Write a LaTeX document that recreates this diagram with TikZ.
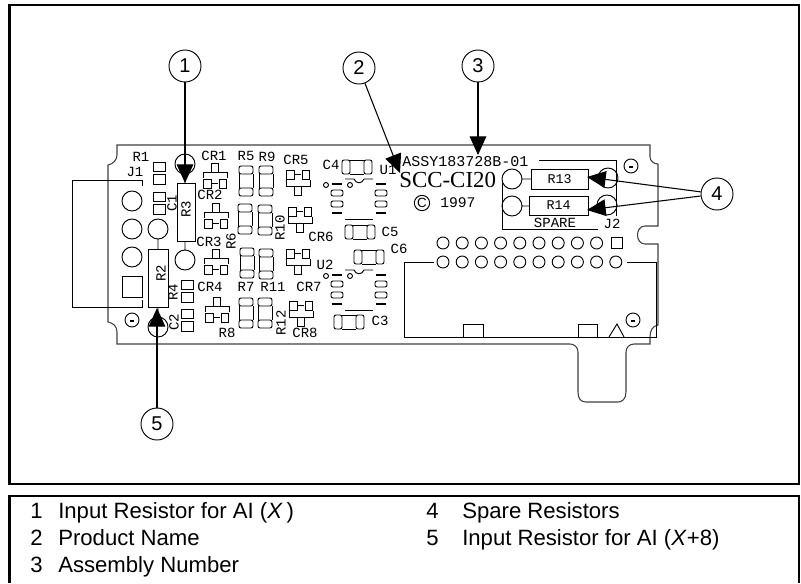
\documentclass[tikz,border=0pt]{standalone}
\usepackage{fontspec}
\setmainfont{Liberation Sans}
\newfontfamily\placafont{Liberation Mono}
\newfontfamily\nombrefont{Liberation Serif}
\usepackage{tikz}
\usetikzlibrary{arrows.meta}

\tikzset{
	marco/.style = {line width = 1.6pt},
	contorno/.style = {line width = 0.8pt, black!75},
	traza/.style = {line width = 0.7pt},
	etiqueta/.style = {inner sep = 0pt, font = \placafont\fontsize{10.5}{11}\selectfont},
	flecha/.style = {line width = 0.8pt, -{Triangle[length = 14pt, width = 12.5pt]}},
	numero/.style = {
		draw, circle, line width = 0.7pt, fill = white, inner sep = 0pt,
		minimum size = 24pt, font = \fontsize{15}{15}\selectfont
	},
	leyenda/.style = {anchor = base west, inner sep = 0pt, font = \fontsize{16.6}{18}\selectfont},
	% resistencia con dos cápsulas
	pics/capsulas/.style = {code = {
		\draw[traza, rounded corners = 1.5pt] (-7,-15) rectangle (7,-7) (-7,7) rectangle (7,15);
		\draw[traza] (-7,-7) -- (-7,7) (7,-7) -- (7,7);
	}},
	% diodo con tres cuadros
	pics/diodo/.style = {code = {
		\draw[traza] (-3.5,-13) rectangle (3.5,-4);
		\draw[traza] (-12,2) -- (-12,-4) -- (12,-4) -- (12,2);
		\draw[traza] (-11.5,3) rectangle (-4,12) (4,3) rectangle (11.5,12);
		\draw[traza] (-3,7.5) -- (3,7.5);
	}},
	% condensador con dos cuadros
	pics/cuadros/.style = {code = {
		\draw[traza] (-6,-11) rectangle (6,-1.5) (-6,1.5) rectangle (6,11);
	}},
	% circuito integrado
	pics/integrado/.style = {code = {
		\draw[traza] (-33,-14) circle (2.5) (-9,-14) circle (2.5);
		\foreach \s in {-1,1} {
			\draw[line width = 1.3pt] (\s*17,-15) -- (\s*27,-15) (\s*17,14) -- (\s*27,14);
			\draw[traza, rounded corners = 1.5pt]
				(\s*16,-9) rectangle (\s*28,-3)
				(\s*16,2) rectangle (\s*28,8);
		}
		\draw[traza] (-14,-20) -- (-5,-20) .. controls (-3,-15) and (3,-15) .. (5,-20) -- (14,-20);
		\draw[traza] (-14,20) -- (14,20);
	}}
}

\begin{document}
\begin{tikzpicture}[x = 0.75pt, y = -0.75pt]

	\useasboundingbox (0,0) rectangle (801,583);

	% marcos
	\draw[marco] (9.5,5) rectangle (799,484);
	\draw[marco] (9.5,583) -- (9.5,496) -- (799,496) -- (799,583);

	% contorno de la placa
	\draw[contorno] (117,145) -- (650,145) -- (650,157)
		.. controls (650,161) and (654,164) .. (658,164)
		-- (658,226) -- (645,226)
		.. controls (635,226) and (635,244) .. (645,244)
		-- (658,244) -- (658,325)
		.. controls (653,326) and (650,330) .. (650,337)
		-- (650,344) -- (634,344)
		.. controls (629,344) and (626,348) .. (626,352)
		-- (626,392)
		.. controls (626,399) and (622,402) .. (618,402)
		-- (586,402)
		.. controls (581,402) and (578,399) .. (578,392)
		-- (578,352)
		.. controls (578,347) and (574,344) .. (570,344)
		-- (117,344) -- (117,332)
		.. controls (117,326) and (113,323) .. (108,322)
		-- (108,165)
		.. controls (113,164) and (117,160) .. (117,155) -- cycle;

	% conector J1
	\draw[traza] (142,186) -- (142,180) -- (72,180) -- (72,307) -- (142,307) -- (142,300);
	\foreach \y in {201,229,257}
		\draw[traza] (132,\y) circle (10);
	\draw[traza] (122,276) rectangle (142,297);

	% resistencias R2 y R3
	\draw[traza] (148,249) rectangle (168,307);
	\draw[traza] (177,183) rectangle (195,241);
	\draw[traza] (158,229) circle (10) (158,239) -- (158,249);
	\draw[traza] (158,327) circle (10) (158,307) -- (158,317);
	\draw[traza] (185,164) circle (10) (185,174) -- (185,183);
	\draw[traza] (185,260) circle (10) (185,241) -- (185,250);

	% agujeros de montaje
	\foreach \x/\y in {132/320,631/166,633/320} {
		\draw[traza] (\x,\y) circle (7);
		\fill (\x-2,\y) rectangle (\x+2,\y+2);
	}

	% componentes pequeños
	\foreach \x/\y in {159/173,159/203,187.5/291,187.5/320}
		\pic at (\x,\y) {cuadros};
	\foreach \x/\y in {246/181,266/181,245/219,265/220,247/263,266/264,246/313,265/313}
		\pic at (\x,\y) {capsulas};
	\foreach \x/\y in {357/167,360/232,369/257,349/322}
		\pic[rotate = 90] at (\x,\y) {capsulas};
	\foreach \x/\y in {215/176,216/216,216/262,217/310}
		\pic at (\x,\y) {diodo};
	\foreach \x/\y in {298/182,300/219,298/261,301/313}
		\pic[yscale = -1] at (\x,\y) {diodo};
	\pic at (359,199) {integrado};
	\pic at (359,290) {integrado};

	% conector inferior
	\draw[traza] (434,262) -- (404,262) -- (404,337) -- (656,337) -- (656,262) -- (627,262);
	\foreach \k in {0,...,8}
		\draw[traza] (443+19.2*\k,243) circle (6);
	\foreach \k in {0,...,9}
		\draw[traza] (443+19.2*\k,262) circle (6);
	\draw[traza] (611.5,237.5) rectangle (622.5,248.5);
	\draw[traza] (463,337) -- (463,324) -- (483,324) -- (483,337);
	\draw[traza] (578,337) -- (578,324) -- (597,324) -- (597,337);
	\draw[traza] (609,337) -- (617,324) -- (624,337);

	% resistencias de reserva
	\draw[traza] (539,160) -- (616,160) -- (616,216);
	\draw[traza] (502,183) -- (502,229) -- (598,229);
	\draw[traza] (512,179) circle (10) (522,179) -- (531,179);
	\draw[traza] (512,206) circle (10) (522,206) -- (529,206);
	\draw[traza] (608,178) circle (10);
	\draw[traza] (607,205) circle (10);
	\node[draw, traza, inner sep = 0pt, minimum width = 42.75pt, minimum height = 15pt,
		font = \placafont\fontsize{10}{10}\selectfont] (R13) at (559.5,179) {R13};
	\node[draw, traza, inner sep = 0pt, minimum width = 44.25pt, minimum height = 14.25pt,
		font = \placafont\fontsize{10}{10}\selectfont] (R14) at (558.5,205.5) {R14};

	% etiquetas de la placa
	\foreach \x/\y/\t in {
		141/157/R1, 135/172/J1, 214/156/CR1, 246/156/R5, 267/157/R9, 296/160/CR5,
		331/165/C4, 388/170/U1, 210/195/CR2, 321/237/CR6, 390/232/C5, 399/249/C6,
		209/242/CR3, 325/265/U2, 210/287/CR4, 246/287/R7, 273/287/R11, 309/287/CR7,
		380/321/C3, 227/333/R8, 305/333/CR8, 555/223/SPARE, 612/224/J2
	}
		\node[etiqueta] (l\t) at (\x,\y) {\t};
	\foreach \x/\y/\t in {
		172/203/C1, 186/209/R3, 161/273/R2, 231/241/R6, 173/292/R4,
		174/322/C2, 280/228/R10, 281/323/R12
	}
		\node[etiqueta, rotate = 90] (l\t) at (\x,\y) {\t};

	\node[etiqueta, anchor = west, font = \placafont\fontsize{11.25}{12}\selectfont]
		(ASSY) at (402,162) {ASSY183728B-01};
	\node[anchor = west, inner sep = 0pt, font = \nombrefont\fontsize{17.2}{18}\selectfont]
		(SCC) at (399,180) {SCC-CI20};
	\node[draw, circle, traza, inner sep = 0pt, minimum size = 11.5pt,
		font = \fontsize{10}{10}\selectfont] (C97) at (422,203) {C};
	\node[etiqueta, anchor = west, font = \placafont\fontsize{11}{12}\selectfont]
		(A97) at (440,203) {1997};

	% números y flechas
	\node[numero] (n1) at (185,66) {1};
	\node[numero] (n2) at (359,68) {2};
	\node[numero] (n3) at (478,66) {3};
	\node[numero] (n4) at (717,194) {4};
	\node[numero] (n5) at (157,424) {5};

	\coordinate (t1) at (185,183);
	\coordinate (t2) at (400,173);
	\coordinate (t3) at (478,155);
	\coordinate (t4a) at (587,177);
	\coordinate (t4b) at (587,210);
	\coordinate (t5) at (157,308);

	\draw[flecha] (n1) -- (t1);
	\draw[flecha] (n2) -- (t2);
	\draw[flecha] (n3) -- (t3);
	\draw[flecha] (n4) -- (t4a);
	\draw[flecha] (n4) -- (t4b);
	\draw[flecha] (n5) -- (t5);

	% leyenda
	\foreach \x/\xx/\y/\n/\t in {
		30/58/518/1/{Input Resistor for AI (\textit{X}\,)},
		30/58/545/2/Product Name,
		30/58/572/3/Assembly Number,
		426/462/518/4/Spare Resistors,
		426/462/545/5/{Input Resistor for AI (\textit{X}+8)}
	} {
		\node[leyenda] (d\n) at (\x,\y) {\n};
		\node[leyenda] (e\n) at (\xx,\y) {\t};
	}

\end{tikzpicture}
\end{document}
